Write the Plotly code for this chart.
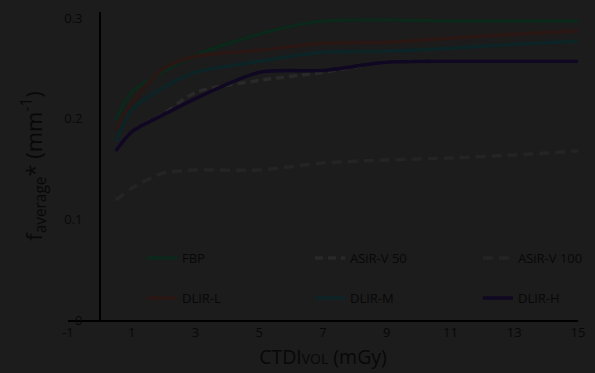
import plotly.graph_objects as go

ctdi = [0.5, 1, 2, 3, 5, 7, 9, 11, 13, 15]

fbp      = [0.199, 0.226, 0.247, 0.263, 0.284, 0.297, 0.298, 0.297, 0.297, 0.297]
asir50   = [0.168, 0.187, 0.205, 0.226, 0.238, 0.246, 0.256, 0.257, 0.257, 0.257]
asir100  = [0.119, 0.131, 0.146, 0.149, 0.149, 0.156, 0.159, 0.161, 0.164, 0.168]
dlir_l   = [0.189, 0.215, 0.250, 0.262, 0.268, 0.275, 0.276, 0.280, 0.284, 0.287]
dlir_m   = [0.177, 0.209, 0.231, 0.246, 0.257, 0.266, 0.267, 0.270, 0.274, 0.277]
dlir_h   = [0.168, 0.187, 0.204, 0.220, 0.246, 0.248, 0.256, 0.257, 0.257, 0.257]

x_ticks = [-1, 1, 3, 5, 7, 9, 11, 13, 15]
x_ticktext = ["-1", "1", "3", "5", "7", "9", "11", "13", "15"]
y_ticks = [0, 0.1, 0.2, 0.3]
y_ticktext = ["0", "0.1", "0.2", "0.3"]

BG = "#1c1c1c"
TXT = "#080808"
FONT = "Open Sans"

series = [
    ("ASiR-V 50", asir50, "#292929", "8px,5px", "legend"),
    ("ASiR-V 100", asir100, "#242424", "10px,6px", "legend"),
    ("FBP", fbp, "#0b281b", "solid", "legend"),
    ("DLIR-L", dlir_l, "#2a1714", "solid", "legend2"),
    ("DLIR-M", dlir_m, "#0d2426", "solid", "legend2"),
    ("DLIR-H", dlir_h, "#100722", "solid", "legend2"),
]
legend_rank = {"FBP": 1, "ASiR-V 50": 2, "ASiR-V 100": 3,
               "DLIR-L": 4, "DLIR-M": 5, "DLIR-H": 6}

fig = go.Figure()
for name, vals, color, dash, lg in series:
    fig.add_trace(go.Scatter(
        x=ctdi, y=vals, name=name, mode="lines",
        line=dict(color=color, width=3.5, dash=dash, shape="spline", smoothing=0.8),
        legend=lg, legendrank=legend_rank[name],
    ))

xmin, xmax = -1, 15
ypos = (0 - xmin) / (xmax - xmin)

leg_common = dict(orientation="h", x=0.145, xanchor="left", yanchor="middle",
                  entrywidth=123, entrywidthmode="pixels", bgcolor="rgba(0,0,0,0)",
                  font=dict(size=13, color=TXT), traceorder="normal")

fig.update_layout(
    width=595, height=373,
    margin=dict(l=68, r=17, t=12, b=53, autoexpand=False),
    paper_bgcolor=BG, plot_bgcolor=BG,
    font=dict(family=FONT, color=TXT, size=12),
    xaxis=dict(range=[xmin, xmax], tickvals=x_ticks, ticktext=x_ticktext,
               showgrid=False, zeroline=False,
               showline=True, linecolor="#000000", linewidth=1.5, ticks="",
               tickfont=dict(size=13, color=TXT), automargin=False,
               title=dict(text="CTDI<span style='font-size:14px'>VOL</span> (mGy)",
                          font=dict(size=19.5, color=TXT), standoff=10)),
    yaxis=dict(range=[0, 0.306], tickvals=y_ticks, ticktext=y_ticktext,
               showgrid=False, zeroline=False, showline=True, linecolor="#000000",
               linewidth=1.5, ticks="", anchor="free", position=ypos,
               ticklabelstandoff=14, tickfont=dict(size=13, color=TXT), automargin=False,
               title=dict(text="f<sub>average</sub>* (mm<sup>-1</sup>)",
                          font=dict(size=22, color=TXT))),
    legend=dict(y=0.201, **leg_common),
    legend2=dict(y=0.071, **leg_common),
)

fig.write_html("out.html", config={"displayModeBar": False},
               post_script="document.body.style.margin='0';")
